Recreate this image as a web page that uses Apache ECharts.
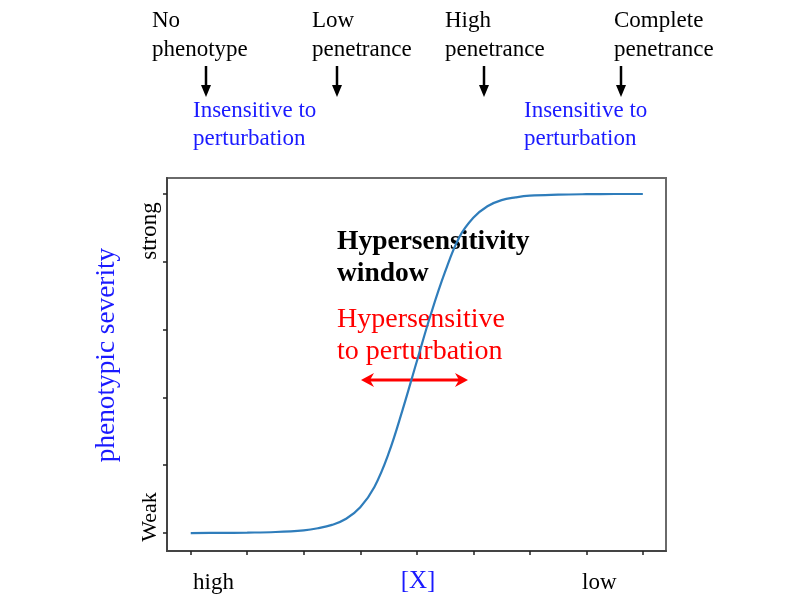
<!DOCTYPE html>
<html>
<head>
<meta charset="utf-8">
<script src="https://cdn.jsdelivr.net/npm/echarts@6/dist/echarts.min.js"></script>
<style>html,body{margin:0;padding:0;background:#fff}#c{width:800px;height:600px}</style>
</head>
<body>
<div id="c"></div>
<script>
// Concentration [X] positions (high -> low) and phenotypic severity
var xValues = [0, 0.5, 1, 1.5, 2, 2.25, 2.5, 2.75, 3, 3.25, 3.5, 3.75, 4, 4.25, 4.5, 4.75, 5, 5.25, 5.5, 5.75, 6, 6.5, 7, 7.5, 8];
var severity = [0, 0.002, 0.006, 0.015, 0.04, 0.07, 0.12, 0.21, 0.38, 0.68, 1.17, 1.82, 2.53, 3.23, 3.85, 4.36, 4.65, 4.82, 4.91, 4.95, 4.975, 4.99, 4.997, 5, 5];
var xTicks = [0, 1, 2, 3, 4, 5, 6, 7, 8];
var yTicks = [0, 1, 2, 3, 4, 5];
var topLabels = [["No", "phenotype"], ["Low", "penetrance"], ["High", "penetrance"], ["Complete", "penetrance"]];
var sideLabels = ["Insensitive to", "perturbation"];
var windowTitle = ["Hypersensitivity", "window"];
var windowNote = ["Hypersensitive", "to perturbation"];
var xEndLabels = ["high", "[X]", "low"];
var yEndLabels = ["Weak", "strong"];
var yTitle = "phenotypic severity";

var F = "'Liberation Serif', 'Times New Roman', serif";
var chart = echarts.init(document.getElementById('c'));

function txt(s, x, y, size, color, opts) {
  opts = opts || {};
  return {
    type: 'text', x: x, y: y, rotation: opts.rot || 0,
    style: {
      text: s, fill: color, font: (opts.bold ? 'bold ' : '') + size + 'px ' + F,
      textAlign: opts.align || 'left', textVerticalAlign: 'middle'
    }
  };
}
function downArrow(x, y0, y1) {
  return [
    {type: 'line', shape: {x1: x, y1: y0, x2: x, y2: y1 - 9}, style: {stroke: '#000', lineWidth: 2.5}},
    {type: 'polygon', shape: {points: [[x - 5, y1 - 12], [x + 5, y1 - 12], [x, y1]]}, style: {fill: '#000'}}
  ];
}

var g = [];
var topX = [152, 312, 445, 614];
var arrowX = [206, 337, 484, 621];
topLabels.forEach(function (l, i) {
  g.push(txt(l[0], topX[i], 21, 23, '#000'));
  g.push(txt(l[1], topX[i], 50, 23, '#000'));
  g = g.concat(downArrow(arrowX[i], 66, 97));
});
[193, 524].forEach(function (x) {
  g.push(txt(sideLabels[0], x, 111, 23, '#1a1aff'));
  g.push(txt(sideLabels[1], x, 139, 23, '#1a1aff'));
});
g.push(txt(windowTitle[0], 337, 242, 27.5, '#000', {bold: true}));
g.push(txt(windowTitle[1], 337, 274, 27.5, '#000', {bold: true}));
g.push(txt(windowNote[0], 337, 320, 28, '#ff0000'));
g.push(txt(windowNote[1], 337, 352, 28, '#ff0000'));
// red double arrow
g.push({type: 'line', shape: {x1: 368, y1: 380, x2: 461, y2: 380}, style: {stroke: '#ff0000', lineWidth: 3}});
g.push({type: 'polygon', shape: {points: [[361, 380], [374, 373], [370, 380], [374, 387]]}, style: {fill: '#ff0000'}});
g.push({type: 'polygon', shape: {points: [[468, 380], [455, 373], [459, 380], [455, 387]]}, style: {fill: '#ff0000'}});
// axis end labels
g.push(txt(xEndLabels[0], 193, 583, 23, '#000'));
g.push(txt(xEndLabels[1], 418, 581, 25, '#1a1aff', {align: 'center'}));
g.push(txt(xEndLabels[2], 582, 583, 23, '#000'));
g.push(txt(yEndLabels[0], 150, 517, 22, '#000', {align: 'center', rot: Math.PI / 2}));
g.push(txt(yEndLabels[1], 150, 231, 23, '#000', {align: 'center', rot: Math.PI / 2}));
g.push(txt(yTitle, 107, 355, 27.3, '#1a1aff', {align: 'center', rot: Math.PI / 2}));

chart.setOption({
  animation: false,
  backgroundColor: '#fff',
  grid: {left: 167, top: 178, right: 134, bottom: 49, show: true, borderColor: '#6a6a6a', borderWidth: 2, backgroundColor: 'transparent'},
  xAxis: {
    type: 'value', min: -0.42, max: 8.41,
    splitLine: {show: false},
    axisLine: {show: true, onZero: false, lineStyle: {color: '#444', width: 2}},
    axisTick: {show: true, length: 4, customValues: xTicks, lineStyle: {color: '#222', width: 1.5}},
    axisLabel: {show: false}
  },
  yAxis: {
    type: 'value', min: -0.265, max: 5.236,
    splitLine: {show: false},
    axisLine: {show: true, onZero: false, lineStyle: {color: '#444', width: 2}},
    axisTick: {show: true, length: 4, customValues: yTicks, lineStyle: {color: '#222', width: 1.5}},
    axisLabel: {show: false}
  },
  series: [{
    type: 'line',
    data: xValues.map(function (x, i) { return [x, severity[i]]; }),
    smooth: 0.4,
    symbol: 'none',
    lineStyle: {color: '#2f7dbb', width: 2.2}
  }],
  graphic: g
});
</script>
</body>
</html>
